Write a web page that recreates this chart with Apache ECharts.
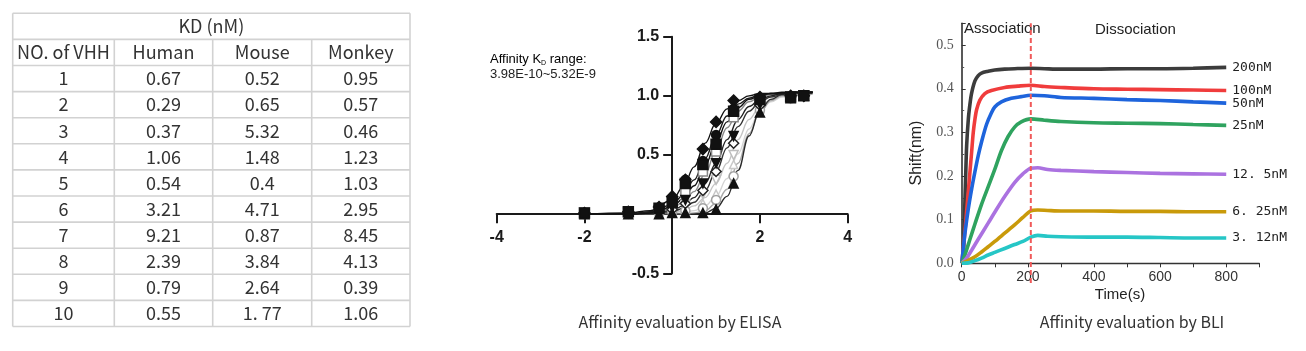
<!DOCTYPE html>
<html><head><meta charset="utf-8">
<script src="https://cdn.jsdelivr.net/npm/echarts@6/dist/echarts.min.js"></script>
<style>html,body{margin:0;padding:0;background:#fff}#c{width:1306px;height:351px}</style>
</head><body><div id="c"></div>
<script>
// ---------- Table data ----------
const tableTitle = 'KD (nM)';
const tableHeader = ['NO. of VHH', 'Human', 'Mouse', 'Monkey'];
const vhhNo = ['1','2','3','4','5','6','7','8','9','10'];
const kdHuman = ['0.67','0.29','0.37','1.06','0.54','3.21','9.21','2.39','0.79','0.55'];
const kdMouse = ['0.52','0.65','5.32','1.48','0.4','4.71','0.87','3.84','2.64','1. 77'];
const kdMonkey = ['0.95','0.57','0.46','1.23','1.03','2.95','8.45','4.13','0.39','1.06'];

// ---------- ELISA data ----------
const elisaCurveX = [-2,-1,-0.5,0,0.25,0.5,0.75,1,1.25,1.5,1.75,2,2.25,2.5,2.75,3,3.2];
const curve1 = [0.00,0.01,0.03,0.12,0.23,0.40,0.60,0.77,0.89,0.96,1.00,1.02,1.02,1.03,1.03,1.03,1.03];
const curve2 = [0.00,0.00,0.02,0.08,0.16,0.29,0.47,0.67,0.83,0.93,0.98,1.01,1.02,1.02,1.03,1.03,1.03];
const curve3 = [0.00,0.00,0.01,0.06,0.13,0.24,0.41,0.61,0.78,0.90,0.97,1.00,1.02,1.02,1.03,1.03,1.03];
const curve4 = [0.00,0.00,0.01,0.05,0.10,0.19,0.34,0.54,0.73,0.87,0.95,0.99,1.01,1.02,1.03,1.03,1.03];
const curve5 = [0.00,0.00,0.01,0.03,0.07,0.14,0.26,0.43,0.63,0.80,0.91,0.97,1.00,1.02,1.02,1.03,1.03];
const curve6 = [0.00,0.00,0.01,0.02,0.05,0.10,0.20,0.36,0.56,0.74,0.87,0.95,0.99,1.01,1.02,1.03,1.03];
const curve7 = [0.00,0.00,0.00,0.01,0.03,0.07,0.14,0.26,0.43,0.63,0.80,0.91,0.97,1.00,1.02,1.02,1.03];
const curve8 = [0.00,0.00,0.00,0.00,0.00,0.01,0.03,0.09,0.21,0.43,0.68,0.86,0.96,1.00,1.01,1.02,1.02];
const curve9 = [0.00,0.00,0.00,0.00,0.00,0.00,0.01,0.05,0.15,0.37,0.66,0.88,0.97,1.01,1.02,1.02,1.02];
const curve10 = [0.00,0.00,0.00,0.01,0.01,0.03,0.07,0.15,0.30,0.51,0.72,0.87,0.95,0.99,1.01,1.01,1.02];

const elisaDoseX = [-2,-1,-0.3,0,0.3,0.7,1.0,1.4,2.0,2.7,3.0];
const pts1 = [0.01,0.02,0.06,0.15,0.29,0.55,0.78,0.96,0.99,1.00,1.00];
const pts2 = [0.01,0.02,0.05,0.12,0.29,0.45,0.67,0.89,0.98,0.99,1.00];
const pts3 = [0.01,0.02,0.05,0.10,0.26,0.42,0.59,0.87,0.97,0.99,1.00];
const pts4 = [0.01,0.02,0.04,0.08,0.19,0.36,0.53,0.82,0.95,0.99,1.00];
const pts5 = [0.01,0.01,0.03,0.06,0.12,0.26,0.43,0.66,0.93,0.99,1.00];
const pts6 = [0.01,0.01,0.02,0.04,0.09,0.20,0.36,0.60,0.92,0.99,1.00];
const pts7 = [0.01,0.01,0.02,0.03,0.08,0.17,0.29,0.50,0.90,0.98,1.00];
const pts8 = [0.00,0.01,0.01,0.02,0.03,0.05,0.12,0.32,0.88,0.98,1.00];
const pts9 = [0.00,0.00,0.00,0.01,0.01,0.01,0.04,0.26,0.86,0.98,1.00];
const pts10 = [0.00,0.01,0.01,0.02,0.04,0.09,0.17,0.42,0.89,0.98,1.00];

// ---------- BLI data ([time s, shift nm]) ----------
const bli200 = [[0,0],[4,0.01],[6,0.04],[8,0.09],[10,0.15],[12,0.2],[15,0.27],[20,0.33],[25,0.365],[30,0.39],[40,0.418],[50,0.43],[60,0.436],[80,0.44],[100,0.443],[130,0.445],[160,0.446],[209,0.447],[250,0.446],[300,0.445],[400,0.445],[500,0.446],[600,0.446],[700,0.447],[800,0.449]];
const bli100 = [[0,0],[5,0.035],[10,0.075],[15,0.12],[20,0.165],[25,0.21],[30,0.255],[35,0.3],[40,0.33],[45,0.352],[55,0.374],[70,0.389],[90,0.396],[130,0.403],[170,0.406],[209,0.408],[250,0.405],[300,0.403],[400,0.4],[500,0.399],[600,0.398],[700,0.397],[800,0.396]];
const bli50 = [[0,0],[5,0.035],[10,0.07],[20,0.125],[30,0.17],[40,0.21],[50,0.247],[60,0.278],[75,0.318],[90,0.345],[100,0.358],[120,0.37],[150,0.378],[180,0.382],[209,0.385],[250,0.384],[300,0.38],[400,0.378],[500,0.375],[600,0.373],[700,0.37],[800,0.367]];
const bli25 = [[0,0],[10,0.02],[25,0.055],[40,0.09],[60,0.135],[80,0.175],[100,0.215],[120,0.258],[140,0.29],[160,0.312],[180,0.324],[209,0.331],[250,0.328],[300,0.325],[400,0.322],[500,0.321],[600,0.32],[700,0.318],[800,0.316]];
const bli12 = [[0,0],[15,0.012],[30,0.03],[50,0.055],[80,0.092],[100,0.117],[130,0.153],[160,0.185],[185,0.205],[209,0.218],[230,0.219],[260,0.215],[300,0.213],[400,0.21],[500,0.208],[600,0.206],[700,0.205],[800,0.204]];
const bli6 = [[0,0],[20,0.007],[40,0.015],[60,0.026],[80,0.038],[100,0.05],[130,0.069],[160,0.088],[185,0.105],[209,0.12],[230,0.122],[260,0.121],[300,0.12],[400,0.12],[500,0.119],[600,0.119],[700,0.118],[800,0.118]];
const bli3 = [[0,0],[20,0.001],[40,0.006],[60,0.012],[80,0.019],[100,0.025],[130,0.034],[160,0.043],[185,0.05],[209,0.06],[230,0.064],[260,0.062],[300,0.061],[400,0.06],[500,0.06],[600,0.059],[700,0.058],[800,0.058]];
const bliSwitchTime = 209;
const bliLabels = ['200nM','100nM','50nM','25nM','12. 5nM','6. 25nM','3. 12nM'];

// ---------- build ----------
const chart = echarts.init(document.getElementById('c'), null, {renderer:'canvas'});
const CJK = "'Noto Sans CJK SC','Noto Sans',sans-serif";

// table graphic
const tblTop = 13.3, rowH = 26.1, colX = [12.7,114.3,212.7,311.7,410];
const tableRows = [tableHeader];
for (let i = 0; i < vhhNo.length; i++) tableRows.push([vhhNo[i], kdHuman[i], kdMouse[i], kdMonkey[i]]);
const g = [];
const lineSty = {stroke:'#d2d2d2', lineWidth:1.6};
const nRows = tableRows.length + 1;
for (let r = 0; r <= nRows; r++) {
  const y = tblTop + r*rowH;
  g.push({type:'line', shape:{x1:colX[0], y1:y, x2:colX[4], y2:y}, style:lineSty});
}
[0,4].forEach(ci => g.push({type:'line', shape:{x1:colX[ci], y1:tblTop, x2:colX[ci], y2:tblTop+nRows*rowH}, style:lineSty}));
[1,2,3].forEach(ci => g.push({type:'line', shape:{x1:colX[ci], y1:tblTop+rowH, x2:colX[ci], y2:tblTop+nRows*rowH}, style:lineSty}));
const txt = (t, x, y) => ({type:'text', x:x, y:y, style:{text:t, fontSize:18, fontFamily:CJK, fill:'#333', align:'center', verticalAlign:'middle'}});
g.push(txt(tableTitle, (colX[0]+colX[4])/2, tblTop + rowH*0.5));
tableRows.forEach((row, ri) => {
  row.forEach((cell, ci) => g.push(txt(cell, (colX[ci]+colX[ci+1])/2, tblTop + rowH*(ri+1.5))));
});
// captions and texts
g.push({type:'text', x:680, y:322, style:{text:'Affinity evaluation by ELISA', fontSize:16, fontFamily:CJK, fill:'#333', align:'center', verticalAlign:'middle'}});
g.push({type:'text', x:1132, y:322, style:{text:'Affinity evaluation by BLI', fontSize:16, fontFamily:CJK, fill:'#333', align:'center', verticalAlign:'middle'}});
g.push({type:'text', x:490, y:59, style:{text:'{a|Affinity K}{s|D}{a| range:}', fontFamily:'Liberation Sans', verticalAlign:'middle', rich:{a:{fontSize:13, fontFamily:'Liberation Sans', color:'#222', lineHeight:15}, s:{fontSize:7, color:'#222', fontFamily:'Liberation Sans', verticalAlign:'bottom', lineHeight:12, padding:[4,0,0,0]}}}});
g.push({type:'text', x:490, y:74, style:{text:'3.98E-10~5.32E-9', fontSize:13, fontFamily:'Liberation Sans', fill:'#222', verticalAlign:'middle'}});
g.push({type:'text', x:964, y:29, style:{text:'Association', fontSize:15, fontFamily:'Liberation Sans', fill:'#222', verticalAlign:'middle'}});
g.push({type:'text', x:1095, y:30, style:{text:'Dissociation', fontSize:15, fontFamily:'Liberation Sans', fill:'#222', verticalAlign:'middle'}});
g.push({type:'text', x:1120, y:295, style:{text:'Time(s)', fontSize:15, fontFamily:'Liberation Sans', fill:'#222', align:'center', verticalAlign:'middle'}});
g.push({type:'text', x:917, y:153, rotation:Math.PI/2, style:{text:'Shift(nm)', fontSize:16, fontFamily:'Liberation Sans', fill:'#222', align:'center', verticalAlign:'middle'}});

const zip = (xs, ys) => xs.map((x, i) => [x, ys[i]]);
const series = [];
const curveDefs = [
  [curve10,'#d4d4d4'],[curve7,'#c4c4c4'],[curve8,'#a8a8a8'],[curve4,'#8a8a8a'],
  [curve9,'#2a2a2a'],[curve6,'#333'],[curve5,'#222'],[curve3,'#111'],[curve2,'#1a1a1a'],[curve1,'#111']
];
curveDefs.forEach(([ys, c]) => series.push({type:'line', xAxisIndex:0, yAxisIndex:0, data:zip(elisaCurveX, ys), smooth:0.4, smoothMonotone:'x', showSymbol:false, lineStyle:{color:c, width:1.4}, silent:true, z:2}));
const ptDefs = [
  [pts10,'triangle',0,'#fff','#c8c8c8',8],
  [pts7,'triangle',180,'#fff','#bdbdbd',9],
  [pts8,'circle',0,'#fff','#a0a0a0',9],
  [pts4,'rect',0,'#fff','#888',9],
  [pts6,'diamond',0,'#fff','#222',10],
  [pts9,'triangle',0,'#111','#111',9],
  [pts5,'triangle',180,'#111','#111',9],
  [pts2,'circle',0,'#111','#111',9],
  [pts1,'diamond',0,'#111','#111',11],
  [pts3,'rect',0,'#111','#111',10]
];
ptDefs.forEach(([ys, sym, rot, fill, stroke, sz]) => series.push({type:'scatter', xAxisIndex:0, yAxisIndex:0, data:zip(elisaDoseX, ys), symbol:sym, symbolRotate:rot, symbolSize:sz, itemStyle:{color:fill, borderColor:stroke, borderWidth:1.5, opacity:1}, silent:true, z:3}));

const bliDefs = [[bli200,'#3c3c3c'],[bli100,'#f03c3c'],[bli50,'#1e64dc'],[bli25,'#2fa35f'],[bli12,'#ab72e0'],[bli6,'#c99a0a'],[bli3,'#26c6c6']];
bliDefs.forEach(([d, c], i) => series.push({type:'line', name:bliLabels[i], xAxisIndex:1, yAxisIndex:1, data:d, smooth:0.3, showSymbol:false, lineStyle:{color:c, width:3.6}, silent:true, z:2,
  endLabel:{show:true, formatter:bliLabels[i], distance:6, color:'#222', fontFamily:"'DejaVu Sans Mono', monospace", fontSize:13}}));
series.push({type:'line', xAxisIndex:1, yAxisIndex:1, data:[[bliSwitchTime,-0.045],[bliSwitchTime,0.55]], clip:false, showSymbol:false, lineStyle:{color:'#f05a5a', width:2, type:[5,3]}, silent:true, z:4});

// ELISA grid geometry: axes cross at (0,0)
const eGrid = {left:496.7, right:458.3, top:36.7, bottom:77.7};
const eXRange = [-4, 4], eYRange = [-0.5, 1.5];
const eW = 1306 - eGrid.left - eGrid.right, eH = 351 - eGrid.top - eGrid.bottom;
const yAxisShift = -eW * (0 - eXRange[0]) / (eXRange[1] - eXRange[0]);
const xAxisShift = -eH * (0 - eYRange[0]) / (eYRange[1] - eYRange[0]);

const option = {
  animation:false,
  backgroundColor:'#fff',
  grid:[eGrid, {left:961.7, right:46.7, top:23.3, bottom:87.7}],
  xAxis:[
    {gridIndex:0, type:'value', min:eXRange[0], max:eXRange[1], interval:2, position:'bottom', offset:xAxisShift,
     axisLine:{onZero:false, lineStyle:{color:'#1a1a1a', width:2}},
     axisTick:{show:true, length:9, lineStyle:{width:2, color:'#1a1a1a'}},
     axisLabel:{formatter:v => v===0 ? '' : String(v), fontFamily:'Liberation Sans', fontWeight:'bold', fontSize:16, color:'#1a1a1a', margin:15},
     splitLine:{show:false}},
    {gridIndex:1, type:'value', min:0, max:900, interval:100,
     axisLine:{onZero:false, lineStyle:{color:'#333', width:1.3}},
     axisTick:{show:true, length:4, lineStyle:{color:'#333'}},
     axisLabel:{formatter:v => (v % 200 === 0 && v < 900) ? String(v) : '', fontFamily:'Liberation Sans', fontSize:14, color:'#333', margin:7},
     splitLine:{show:false}}
  ],
  yAxis:[
    {gridIndex:0, type:'value', min:eYRange[0], max:eYRange[1], interval:0.5, position:'left', offset:yAxisShift,
     axisLine:{show:true, onZero:false, lineStyle:{color:'#1a1a1a', width:2}},
     axisTick:{show:true, length:9, lineStyle:{width:2, color:'#1a1a1a'}},
     axisLabel:{formatter:v => Math.abs(v) < 1e-9 ? '' : v.toFixed(1), fontFamily:'Liberation Sans', fontWeight:'bold', fontSize:16, color:'#1a1a1a', margin:13},
     splitLine:{show:false}},
    {gridIndex:1, type:'value', min:0, max:0.55, interval:0.1,
     axisLine:{show:true, onZero:false, lineStyle:{color:'#222', width:1.5}},
     axisTick:{show:true, inside:true, length:4, lineStyle:{color:'#333'}},
     minorTick:{show:true, splitNumber:2, length:2.5, lineStyle:{color:'#555'}},
     axisLabel:{formatter:v => Math.abs(v*10 - Math.round(v*10)) < 1e-6 ? v.toFixed(1) : '', fontFamily:'Liberation Serif', fontSize:14, color:'#555', margin:8},
     splitLine:{show:false}}
  ],
  graphic:g,
  series:series
};
chart.setOption(option);
</script></body></html>
